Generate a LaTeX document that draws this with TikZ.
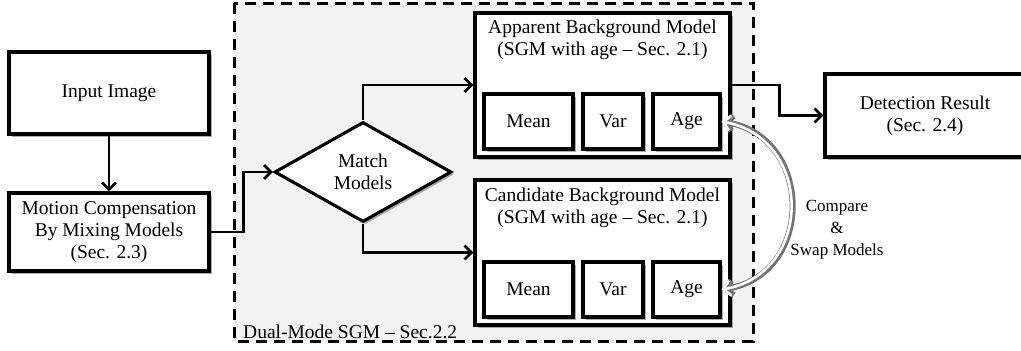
\documentclass[tikz,border=0pt]{standalone}
\usepackage{fontspec}
\setmainfont{Liberation Serif}
\usetikzlibrary{shapes.geometric,arrows.meta,shadows}
\definecolor{panel}{RGB}{242,242,242}
\tikzset{
  box/.style={draw=black, line width=3.1pt, fill=white, inner sep=0pt,
    drop shadow={shadow xshift=2.5pt, shadow yshift=-2.5pt, opacity=0.45, fill=black!70}},
  cell/.style={box, minimum height=55pt},
  conn/.style={draw=black, line width=2.7pt, -{Straight Barb[length=7pt,width=14pt,line width=2.7pt]}},
  txt/.style={font=\fontsize{19.5}{22}\selectfont, align=center},
  swaptip/.tip={Straight Barb[length=7pt,width=15pt]},
}
\begin{document}
\begin{tikzpicture}[x=1pt,y=1pt]
\useasboundingbox[fill=white] (0,0) rectangle (1021,-351);
% dashed panel
\draw[fill=panel, line width=3pt, dash pattern=on 11pt off 7pt] (234,-3) rectangle (753,-341);
\node[txt, anchor=south west, inner sep=0pt] (dmlab) at (243,-339) {Dual-Mode SGM -- Sec.2.2};

% left column
\node[box, minimum width=200pt, minimum height=82pt, txt] (inp) at (109,-93) {Input Image};
\node[box, minimum width=200pt, minimum height=78pt, txt] (mot) at (109,-232)
  {Motion Compensation\\By Mixing Models\\(Sec. 2.3)};

% diamond
\node[draw=black, line width=3.1pt, fill=white, diamond, aspect=1.77, minimum width=177pt,
  minimum height=100pt, inner sep=0pt, txt,
  drop shadow={shadow xshift=2.5pt, shadow yshift=-2.5pt, opacity=0.45, fill=black!70}]
  (mm) at (363,-172) {Match\\Models};

% apparent model
\node[box, minimum width=255pt, minimum height=144pt] (app) at (602.5,-85) {};
\node[txt, anchor=north, inner sep=0pt] (appt) at (602.5,-20) {Apparent Background Model\\(SGM with age -- Sec. 2.1)};
\node[cell, minimum width=89pt, txt] (mean1) at (528.5,-121.5) {Mean};
\node[cell, minimum width=60pt, txt] (var1) at (613,-121.5) {Var};
\node[cell, minimum width=67pt, txt] (age1) at (686.5,-121.5) {Age};

% candidate model
\node[box, minimum width=255pt, minimum height=145pt] (cand) at (602.5,-252.5) {};
\node[txt, anchor=north, inner sep=0pt] (candt) at (602.5,-188) {Candidate Background Model\\(SGM with age -- Sec. 2.1)};
\node[cell, minimum width=89pt, txt] (mean2) at (528.5,-289.5) {Mean};
\node[cell, minimum width=60pt, txt] (var2) at (613,-289.5) {Var};
\node[cell, minimum width=67pt, txt] (age2) at (686.5,-289.5) {Age};

% detection
\node[box, minimum width=200pt, minimum height=83pt, txt] (det) at (925,-115.5) {Detection Result\\(Sec. 2.4)};

% connectors
\draw[conn] (inp.south) -- (mot.north);
\draw[conn] (mot.east) -- ++(33,0) |- (mm.west);
\draw[conn] (mm.north) |- (app.west);
\draw[conn] (mm.south) |- (cand.west);
\draw[conn] (app.east) -- ++(48,0) |- (det.west);

% compare & swap
\draw[line width=6pt, black!55, swaptip-swaptip]
  (age1.east) .. controls (814,-138) and (814,-274) .. (age2.east);
\draw[line width=2.6pt, white, swaptip-swaptip]
  (age1.east) .. controls (814,-138) and (814,-274) .. (age2.east);
\node[font=\fontsize{17}{22}\selectfont, align=center] (cmp) at (837,-230) {Compare\\\&\\Swap Models};
\end{tikzpicture}
\end{document}
